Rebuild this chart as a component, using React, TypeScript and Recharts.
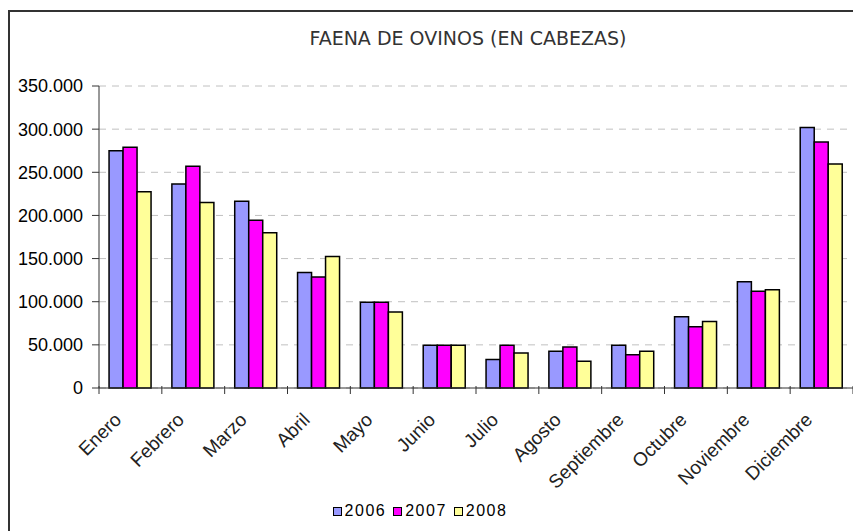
import { BarChart, Bar, XAxis, YAxis, CartesianGrid, Legend } from 'recharts';

const months = ['Enero', 'Febrero', 'Marzo', 'Abril', 'Mayo', 'Junio', 'Julio', 'Agosto', 'Septiembre', 'Octubre', 'Noviembre', 'Diciembre'];
const y2006 = [275000, 236500, 216500, 134000, 99500, 49500, 33000, 42500, 49500, 82500, 123000, 302000];
const y2007 = [279000, 257000, 194500, 128500, 99500, 49500, 49500, 47500, 38500, 71000, 112000, 285000];
const y2008 = [227500, 215000, 180000, 152500, 88000, 49500, 40500, 31000, 42500, 77000, 114000, 259500];
const yTicks = [0, 50000, 100000, 150000, 200000, 250000, 300000, 350000];

const seriesNames = ['2006', '2007', '2008'];
const seriesColors = ['#9999FF', '#FF00FF', '#FFFF99'];

const data = months.map((m, i) => ({ month: m, y2006: y2006[i], y2007: y2007[i], y2008: y2008[i] }));

const fmt = (v: number) => v.toLocaleString('de-DE');

const CHART_W = 853;
const PLOT_LEFT = 99;
const BAND = (CHART_W - PLOT_LEFT) / months.length;
const SANS = "'Liberation Sans', Arial, sans-serif";

function MonthTick(props: any) {
  const { x, y, payload, index } = props;
  const axisY = y - 8;
  const tx = x - 8;
  const ty = y + 25;
  return (
    <g>
      <line x1={x - BAND / 2} y1={axisY - 2} x2={x - BAND / 2} y2={axisY + 6} stroke="#333" strokeWidth={1} />
      {index === months.length - 1 && (
        <line x1={x + BAND / 2} y1={axisY - 2} x2={x + BAND / 2} y2={axisY + 6} stroke="#333" strokeWidth={1} />
      )}
      <text
        x={tx}
        y={ty}
        transform={`rotate(-45, ${tx}, ${ty})`}
        textAnchor="end"
        fill="#222"
        fontSize={19}
        fontFamily={SANS}
      >
        {payload.value}
      </text>
    </g>
  );
}

function LegendBox() {
  return (
    <div style={{ height: 22, display: 'flex', justifyContent: 'center', alignItems: 'center', paddingRight: 6, fontFamily: SANS, fontSize: 16, color: '#000' }}>
      {seriesNames.map((n, i) => (
        <span key={n} style={{ display: 'flex', alignItems: 'center', marginRight: 7 }}>
          <span style={{ width: 7, height: 7, background: seriesColors[i], border: '1px solid #000', marginRight: 3 }} />
          <span style={{ letterSpacing: 1.5 }}>{n}</span>
        </span>
      ))}
    </div>
  );
}

export default function App() {
  return (
    <div style={{ position: 'absolute', left: 0, top: 0, width: 853, height: 531, background: '#fff', overflow: 'hidden' }}>
      <div style={{ position: 'absolute', left: 8, top: 10, width: 900, height: 600, borderLeft: '2px solid #333', borderTop: '2px solid #333' }} />
      <div style={{ position: 'absolute', left: 0, top: 27, width: 936, textAlign: 'center', fontFamily: "'DejaVu Sans', Verdana, sans-serif", fontSize: 19, color: '#333' }}>
        FAENA DE OVINOS (EN CABEZAS)
      </div>
      <BarChart
        width={CHART_W}
        height={531}
        data={data}
        margin={{ top: 86, right: 0, left: 0, bottom: 9 }}
        barCategoryGap="16%"
        barGap={0}
        style={{ position: 'absolute', left: 0, top: 0 }}
      >
        <CartesianGrid vertical={false} stroke="#c0c0c0" strokeDasharray="7 6" />
        <YAxis
          width={PLOT_LEFT}
          domain={[0, 350000]}
          ticks={yTicks}
          interval={0}
          tickFormatter={fmt}
          tickSize={7}
          tickMargin={9}
          stroke="#333"
          tick={{ fill: '#000', fontSize: 18, fontFamily: SANS }}
        />
        <XAxis
          dataKey="month"
          height={112}
          interval={0}
          tickLine={false}
          stroke="#333"
          tick={<MonthTick />}
        />
        <Legend verticalAlign="bottom" content={<LegendBox />} />
        <Bar dataKey="y2006" name="2006" fill={seriesColors[0]} stroke="#000" strokeWidth={1.5} isAnimationActive={false} />
        <Bar dataKey="y2007" name="2007" fill={seriesColors[1]} stroke="#000" strokeWidth={1.5} isAnimationActive={false} />
        <Bar dataKey="y2008" name="2008" fill={seriesColors[2]} stroke="#000" strokeWidth={1.5} isAnimationActive={false} />
      </BarChart>
    </div>
  );
}
